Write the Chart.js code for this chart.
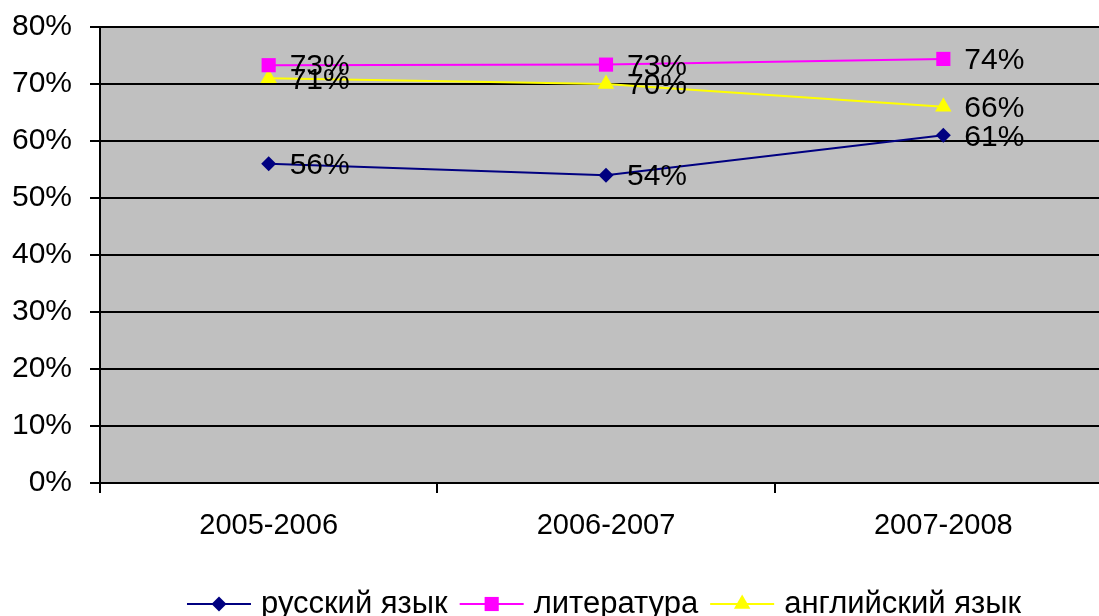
<!DOCTYPE html>
<html><head><meta charset="utf-8">
<script src="https://cdn.jsdelivr.net/npm/chart.js@4/dist/chart.umd.min.js"></script>
<style>html,body{margin:0;padding:0;overflow:hidden;background:#fff;width:1099px;height:616px}canvas{display:block}</style>
</head><body>
<canvas id="c" width="1212" height="616"></canvas>
<script>
const categories = ['2005-2006', '2006-2007', '2007-2008'];
const seriesNames = ['русский язык', 'литература', 'английский язык'];
const russian = [56, 54, 61];
const literature = [73.3, 73.4, 74.4];
const english = [71, 70, 66];
const yTicks = [0, 10, 20, 30, 40, 50, 60, 70, 80];

const FONT = "'Liberation Sans', Arial, sans-serif";
const colors = ['#000080', '#FF00FF', '#FFFF00'];
const styles = ['rectRot', 'rect', 'triangle'];
const radii = [7.5, 10, 9.5];

function drawMarker(ctx, style, x, y, r, color) {
  ctx.save();
  ctx.fillStyle = color;
  ctx.beginPath();
  if (style === 'rectRot') {
    ctx.moveTo(x, y - r); ctx.lineTo(x + r, y); ctx.lineTo(x, y + r); ctx.lineTo(x - r, y);
  } else if (style === 'rect') {
    const s = r * Math.SQRT1_2;
    ctx.rect(x - s, y - s, 2 * s, 2 * s);
  } else {
    ctx.moveTo(x, y - r);
    ctx.lineTo(x + r * Math.sin(2 * Math.PI / 3), y + r / 2);
    ctx.lineTo(x - r * Math.sin(2 * Math.PI / 3), y + r / 2);
  }
  ctx.closePath();
  ctx.fill();
  ctx.restore();
}

const bgPlugin = {
  id: 'bg',
  beforeDraw(chart) {
    const a = chart.chartArea, ctx = chart.ctx;
    ctx.save();
    ctx.fillStyle = '#fff';
    ctx.fillRect(0, 0, chart.width, chart.height);
    ctx.fillStyle = '#C0C0C0';
    ctx.fillRect(a.left, a.top, a.right - a.left, a.bottom - a.top);
    ctx.restore();
  }
};

const labelPlugin = {
  id: 'labels',
  afterDatasetsDraw(chart) {
    const ctx = chart.ctx;
    ctx.save();
    ctx.font = '30px ' + FONT;
    ctx.fillStyle = '#000';
    ctx.textAlign = 'left';
    ctx.textBaseline = 'middle';
    chart.data.datasets.forEach((ds, i) => {
      chart.getDatasetMeta(i).data.forEach((pt, j) => {
        ctx.fillText(Math.round(ds.data[j]) + '%', pt.x + 21, pt.y + 2);
      });
    });
    ctx.restore();
  }
};

const legendPlugin = {
  id: 'customLegend',
  afterDraw(chart) {
    const ctx = chart.ctx;
    ctx.save();
    ctx.font = '31px ' + FONT;
    const lineLen = 64, gap = 10, spacing = 12;
    const widths = chart.data.datasets.map(ds => ctx.measureText(ds.label).width);
    const total = widths.reduce((s, w) => s + lineLen + gap + w, 0) + spacing * (widths.length - 1);
    let x = 604 - total / 2;
    const y = 604;
    chart.data.datasets.forEach((ds, i) => {
      ctx.strokeStyle = colors[i];
      ctx.lineWidth = 2;
      ctx.beginPath(); ctx.moveTo(x, y); ctx.lineTo(x + lineLen, y); ctx.stroke();
      drawMarker(ctx, styles[i], x + lineLen / 2, y, radii[i], colors[i]);
      ctx.fillStyle = '#000';
      ctx.textAlign = 'left';
      ctx.textBaseline = 'middle';
      ctx.fillText(ds.label, x + lineLen + gap, y);
      x += lineLen + gap + widths[i] + spacing;
    });
    ctx.restore();
  }
};

const seriesData = [russian, literature, english];
new Chart(document.getElementById('c'), {
  type: 'line',
  data: {
    labels: categories,
    datasets: seriesNames.map((name, i) => ({
      label: name,
      data: seriesData[i],
      borderColor: colors[i],
      backgroundColor: colors[i],
      borderWidth: 2,
      tension: 0,
      pointStyle: styles[i],
      pointRadius: radii[i],
      pointHoverRadius: radii[i],
      pointBorderWidth: 0,
      fill: false
    }))
  },
  options: {
    responsive: false,
    animation: false,
    events: [],
    layout: { padding: { top: 27, right: 100, bottom: 73, left: 0 } },
    plugins: { legend: { display: false }, tooltip: { enabled: false } },
    scales: {
      x: {
        offset: true,
        grid: { offset: true, drawOnChartArea: false, color: '#000', lineWidth: 2, tickLength: 10 },
        border: { color: '#000', width: 2 },
        ticks: { color: '#000', font: { family: FONT, size: 29 }, padding: 16, maxRotation: 0 },
        afterFit(s) { s.height = 60; s.paddingLeft = 0; s.paddingRight = 0; }
      },
      y: {
        min: 0, max: 80,
        afterBuildTicks(s) { s.ticks = yTicks.map(v => ({ value: v })); },
        grid: { color: '#000', lineWidth: 2, tickLength: 10 },
        border: { color: '#000', width: 2 },
        ticks: { color: '#000', font: { family: FONT, size: 30 }, padding: 18, callback: v => v + '%' },
        afterFit(s) { s.width = 100; s.paddingTop = 0; s.paddingBottom = 0; }
      }
    }
  },
  plugins: [bgPlugin, labelPlugin, legendPlugin]
});
</script>
</body></html>
